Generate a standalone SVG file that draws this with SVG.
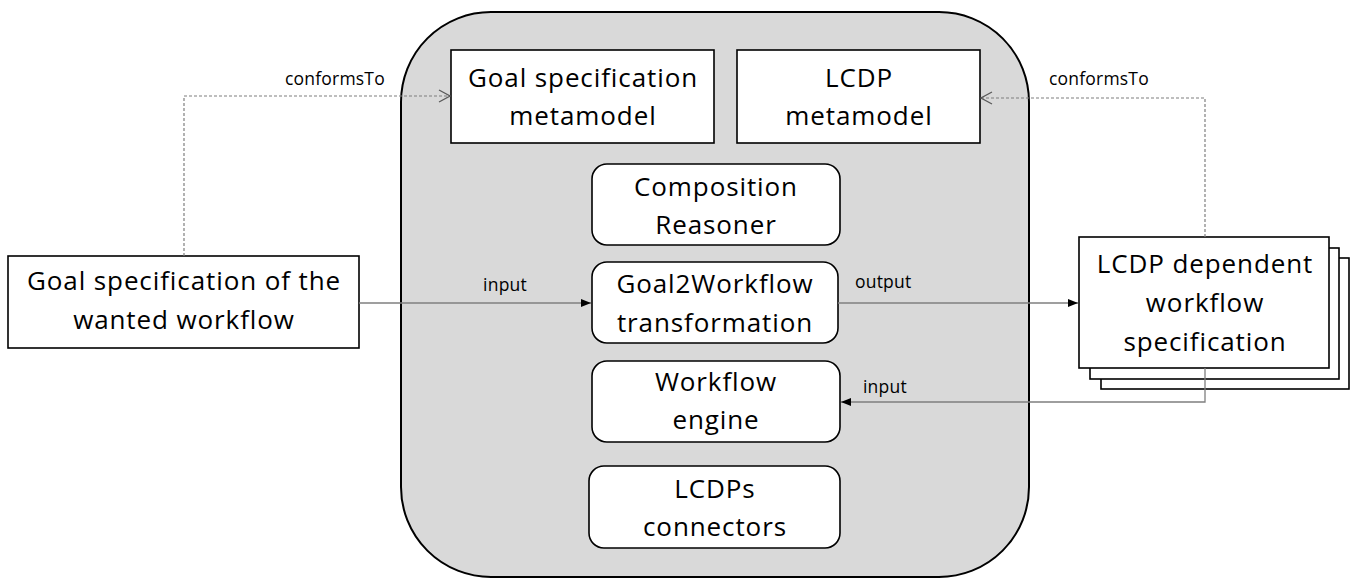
<svg xmlns="http://www.w3.org/2000/svg" width="1352" height="581" viewBox="0 0 1352 581">
  <style>
    .box { fill: #ffffff; stroke: #000000; stroke-width: 1.6; }
    .container { fill: #d9d9d9; stroke: #000000; stroke-width: 2; }
    .node-text { font-family: "Open Sans", "Liberation Sans", sans-serif; font-size: 26px; letter-spacing: 0.9px; fill: #000000; text-anchor: middle; }
    .edge-label { font-family: "Open Sans", "Liberation Sans", sans-serif; font-size: 17.5px; letter-spacing: 0.2px; fill: #000000; }
    .solid { fill: none; stroke: #7f7f7f; stroke-width: 1.3; }
    .dashed { fill: none; stroke: #7f7f7f; stroke-width: 1.2; stroke-dasharray: 3 2; }
  </style>
  <defs>
    <marker id="filled" viewBox="0 0 10 8" refX="10" refY="4" markerWidth="10" markerHeight="8" markerUnits="userSpaceOnUse" orient="auto">
      <path d="M0,0 L10,4 L0,8 Z" fill="#000000"/>
    </marker>
    <marker id="open" viewBox="0 0 13 14" refX="12" refY="7" markerWidth="13" markerHeight="14" markerUnits="userSpaceOnUse" orient="auto">
      <path d="M1,1 L12,7 L1,13" fill="none" stroke="#595959" stroke-width="1.2"/>
    </marker>
  </defs>

  <!-- platform container -->
  <g id="platform">
    <rect class="container" x="401" y="12" width="628" height="565" rx="90" ry="90"/>
  </g>

  <g id="goal-metamodel">
    <rect class="box" x="451" y="50" width="263" height="93"/>
    <text class="node-text" x="583" y="87">Goal specification</text>
    <text class="node-text" x="583" y="125">metamodel</text>
  </g>

  <g id="lcdp-metamodel">
    <rect class="box" x="737" y="50" width="243" height="93"/>
    <text class="node-text" x="859" y="87">LCDP</text>
    <text class="node-text" x="859" y="125">metamodel</text>
  </g>

  <g id="composition-reasoner">
    <rect class="box" x="592" y="164" width="248" height="81" rx="15" ry="15"/>
    <text class="node-text" x="716" y="196">Composition</text>
    <text class="node-text" x="716" y="234">Reasoner</text>
  </g>

  <g id="goal2workflow">
    <rect class="box" x="592" y="262" width="246" height="81" rx="15" ry="15"/>
    <text class="node-text" x="715" y="293">Goal2Workflow</text>
    <text class="node-text" x="715" y="332">transformation</text>
  </g>

  <g id="workflow-engine">
    <rect class="box" x="592" y="361" width="248" height="81" rx="15" ry="15"/>
    <text class="node-text" x="716" y="391">Workflow</text>
    <text class="node-text" x="716" y="429">engine</text>
  </g>

  <g id="lcdp-connectors">
    <rect class="box" x="589" y="466" width="251" height="82" rx="15" ry="15"/>
    <text class="node-text" x="715" y="498">LCDPs</text>
    <text class="node-text" x="715" y="536">connectors</text>
  </g>

  <g id="goal-specification">
    <rect class="box" x="8" y="256" width="351" height="92"/>
    <text class="node-text" x="184" y="290">Goal specification of the</text>
    <text class="node-text" x="184" y="329">wanted workflow</text>
  </g>

  <g id="workflow-specification">
    <rect class="box" x="1101" y="258" width="248" height="131"/>
    <rect class="box" x="1090" y="248" width="249" height="131"/>
    <rect class="box" x="1079" y="237" width="250" height="131"/>
    <text class="node-text" x="1205" y="273">LCDP dependent</text>
    <text class="node-text" x="1205" y="312">workflow</text>
    <text class="node-text" x="1205" y="351">specification</text>
  </g>

  <!-- connectors -->
  <g id="connectors">
    <path class="dashed" d="M184,256 V96 H450" marker-end="url(#open)"/>
    <path class="dashed" d="M1205,237 V98 H981" marker-end="url(#open)"/>
    <path class="solid" d="M359,303 H591" marker-end="url(#filled)"/>
    <path class="solid" d="M838,303 H1078" marker-end="url(#filled)"/>
    <path class="solid" d="M1205,368 V402 H841" marker-end="url(#filled)"/>
    <text class="edge-label" x="285" y="85">conformsTo</text>
    <text class="edge-label" x="1049" y="85">conformsTo</text>
    <text class="edge-label" x="505" y="291" text-anchor="middle">input</text>
    <text class="edge-label" x="855" y="288">output</text>
    <text class="edge-label" x="863" y="393">input</text>
  </g>
</svg>
